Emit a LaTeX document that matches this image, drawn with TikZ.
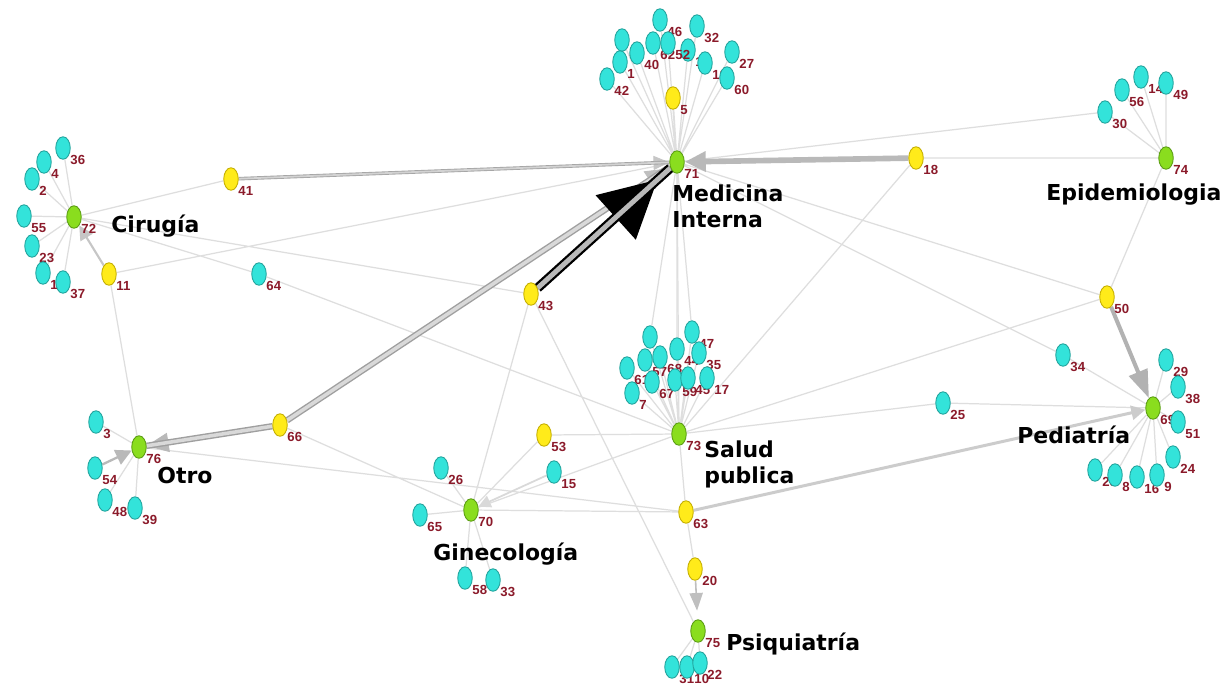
\documentclass[tikz,border=0pt]{standalone}
\usepackage{fontspec}
\setmainfont{Liberation Sans}
\newfontfamily\hubfont{DejaVu Sans}
\usepackage{xcolor}
\usetikzlibrary{shapes.geometric,arrows.meta}

\definecolor{cyanf}{HTML}{33E3DA}
\definecolor{cyanb}{HTML}{22A39C}
\definecolor{yelf}{HTML}{FFEB1A}
\definecolor{yelb}{HTML}{C4AE00}
\definecolor{grnf}{HTML}{8ADD1E}
\definecolor{grnb}{HTML}{5A9C12}
\definecolor{numred}{HTML}{8B1A2A}
\definecolor{edgef}{HTML}{DEDEDE}

\pgfdeclarelayer{bg}
\pgfsetlayers{bg,main}

\begin{document}
\begin{tikzpicture}[x=0.02cm, y=-0.02cm,
        nd/.style={ellipse, minimum width=0.29cm, minimum height=0.45cm, inner sep=0pt, line width=0.5pt},
        num/.style={text=numred, font=\fontsize{7.5}{8}\selectfont\bfseries, inner sep=0.4pt},
        cyn/.style={nd, fill=cyanf, draw=cyanb, label={[num]-45:#1}},
        yel/.style={nd, fill=yelf, draw=yelb, label={[num]-45:#1}},
        grn/.style={nd, fill=grnf, draw=grnb, label={[num]-45:#1}},
        blank/.style={nd, fill=cyanf, draw=cyanb},
        hub/.style={font=\hubfont\fontsize{12.5}{15.3}\selectfont\bfseries, align=left, inner sep=0pt},
        faint/.style={draw=edgef, line width=0.7pt},
        dbl/.style={draw=gray!75, line width=0.8pt, double=gray!30, double distance=2pt},
        tip/.style={-{Triangle[length=#1, width=#1]}}
    ]
    \useasboundingbox (0,0) rectangle (1226,684);

    % hubs (areas)
    \node[grn=71] (n71) at (677,162) {};
    \node[grn=72] (n72) at (74,217) {};
    \node[grn=74] (n74) at (1166,158) {};
    \node[grn=76] (n76) at (139,447) {};
    \node[grn=70] (n70) at (471,510) {};
    \node[grn=73] (n73) at (679,434) {};
    \node[grn=69] (n69) at (1153,408) {};
    \node[grn=75] (n75) at (698,631) {};

    % yellow brokers
    \node[yel=5] (n5) at (673,98) {};
    \node[yel=41] (n41) at (231,179) {};
    \node[yel=11] (n11) at (109,274) {};
    \node[yel=43] (n43) at (531,294) {};
    \node[yel=18] (n18) at (916,158) {};
    \node[yel=50] (n50) at (1107,297) {};
    \node[yel=66] (n66) at (280,425) {};
    \node[yel=53] (n53) at (544,435) {};
    \node[yel=63] (n63) at (686,512) {};
    \node[yel=20] (n20) at (695,569) {};

    % Medicina Interna group
    \node[cyn=2] (n2a) at (622,40) {};
    \node[cyn=40] (n40) at (637,53) {};
    \node[cyn=1] (n1a) at (620,62) {};
    \node[cyn=42] (n42) at (607,79) {};
    \node[cyn=46] (n46) at (660,20) {};
    \node[cyn=62] (n62) at (653,43) {};
    \node[cyn=1] (nq) at (688,50) {};
    \node[cyn=52] (n52) at (668,43) {};
    \node[cyn=32] (n32) at (697,26) {};
    \node[cyn=19] (n19) at (705,63) {};
    \node[cyn=27] (n27) at (732,52) {};
    \node[cyn=60] (n60) at (727,78) {};

    % Cirugia group
    \node[cyn=36] (n36) at (63,148) {};
    \node[cyn=4] (n4) at (44,162) {};
    \node[cyn=2] (n2b) at (32,179) {};
    \node[cyn=55] (n55) at (24,216) {};
    \node[cyn=23] (n23) at (32,246) {};
    \node[cyn=1] (n1b) at (43,273) {};
    \node[cyn=37] (n37) at (63,282) {};
    \node[cyn=64] (n64) at (259,274) {};

    % Epidemiologia group
    \node[cyn=30] (n30) at (1105,112) {};
    \node[cyn=56] (n56) at (1122,90) {};
    \node[cyn=14] (n14) at (1141,77) {};
    \node[cyn=49] (n49) at (1166,83) {};

    % Salud publica group
    \node[blank] (nq2) at (650,337) {};
    \node[cyn=47] (n47) at (692,332) {};
    \node[cyn=61] (n61) at (627,368) {};
    \node[cyn=57] (n57) at (645,360) {};
    \node[cyn=68] (n68) at (660,357) {};
    \node[cyn=44] (n44) at (677,349) {};
    \node[cyn=35] (n35) at (699,353) {};
    \node[cyn=7] (n7) at (632,393) {};
    \node[cyn=67] (n67) at (652,382) {};
    \node[cyn=59] (n59) at (675,380) {};
    \node[cyn=45] (n45) at (688,378) {};
    \node[cyn=17] (n17) at (707,378) {};

    % Pediatria group
    \node[cyn=34] (n34) at (1063,355) {};
    \node[cyn=25] (n25) at (943,403) {};
    \node[cyn=29] (n29) at (1166,360) {};
    \node[cyn=38] (n38) at (1178,387) {};
    \node[cyn=51] (n51) at (1178,422) {};
    \node[cyn=24] (n24) at (1173,457) {};
    \node[cyn=28] (n28) at (1095,470) {};
    \node[cyn=8] (n8) at (1115,475) {};
    \node[cyn=16] (n16) at (1137,477) {};
    \node[cyn=9] (n9) at (1157,475) {};

    % Otro group
    \node[cyn=3] (n3) at (96,422) {};
    \node[cyn=54] (n54) at (95,468) {};
    \node[cyn=48] (n48) at (105,500) {};
    \node[cyn=39] (n39) at (135,508) {};

    % Ginecologia group
    \node[cyn=26] (n26) at (441,468) {};
    \node[cyn=15] (n15) at (554,472) {};
    \node[cyn=65] (n65) at (420,515) {};
    \node[cyn=58] (n58) at (465,578) {};
    \node[cyn=33] (n33) at (493,580) {};

    % Psiquiatria group
    \node[cyn=31] (n31) at (672,667) {};
    \node[cyn=10] (n10) at (687,667) {};
    \node[cyn=22] (n22) at (700,663) {};

    % area names
    \node[hub, anchor=north west] (tmed) at (672,184) {Medicina\\Interna};
    \node[hub, anchor=base west] (tcir) at (111,232) {Cirugía};
    \node[hub, anchor=base west] (tepi) at (1046,200) {Epidemiologia};
    \node[hub, anchor=base west] (totr) at (157,483) {Otro};
    \node[hub, anchor=base west] (tgin) at (433,560) {Ginecología};
    \node[hub, anchor=north west] (tsal) at (704,440) {Salud\\publica};
    \node[hub, anchor=base west] (tped) at (1017,443) {Pediatría};
    \node[hub, anchor=base west] (tpsi) at (726,650) {Psiquiatría};

    \begin{pgfonlayer}{bg}
    \fill[white] (0,0) rectangle (1226,684);

    % faint links inside groups
    \draw[faint] (n2a) -- (n71) (n40) -- (n71) (n1a) -- (n71) (n42) -- (n71)
        (n46) -- (n71) (n62) -- (n71) (nq) -- (n71) (n52) -- (n71)
        (n32) -- (n71) (n19) -- (n71) (n27) -- (n71) (n60) -- (n71) (n5) -- (n71);
    \draw[faint] (n36) -- (n72) (n4) -- (n72) (n2b) -- (n72) (n55) -- (n72)
        (n23) -- (n72) (n1b) -- (n72) (n37) -- (n72);
    \draw[faint] (n30) -- (n74) (n56) -- (n74) (n14) -- (n74) (n49) -- (n74);
    \draw[faint] (nq2) -- (n73) (n47) -- (n73) (n61) -- (n73) (n57) -- (n73)
        (n68) -- (n73) (n44) -- (n73) (n35) -- (n73) (n7) -- (n73)
        (n67) -- (n73) (n59) -- (n73) (n45) -- (n73) (n17) -- (n73);
    \draw[faint] (n29) -- (n69) (n38) -- (n69) (n51) -- (n69) (n24) -- (n69)
        (n28) -- (n69) (n8) -- (n69) (n16) -- (n69) (n9) -- (n69)
        (n34) -- (n69) (n25) -- (n69);
    \draw[faint] (n3) -- (n76) (n48) -- (n76) (n39) -- (n76);
    \draw[faint] (n26) -- (n70) (n65) -- (n70) (n58) -- (n70) (n33) -- (n70) (n53) -- (n70);
    \draw[faint] (n31) -- (n75) (n10) -- (n75) (n22) -- (n75);

    % faint links between groups
    \draw[faint] (n41) -- (n72) (n11) -- (n71) (n72) -- (n43) (n72) -- (n64)
        (n64) -- (n73) (n30) -- (n71) (n18) -- (n74) (n50) -- (n74)
        (n71) -- (n50) (n71) -- (n34) (n73) -- (n50) (n73) -- (n18)
        (n73) -- (n25) (n71) -- (n73) (n63) -- (n73) (n63) -- (n20)
        (n43) -- (n70) (n43) -- (n75) (n66) -- (n70) (n63) -- (n76)
        (n63) -- (n70) (n73) -- (n70) (n53) -- (n73) (n11) -- (n76);
    \draw[faint] (nq2) -- (n71) (n44) -- (n71) (n47) -- (n71);

    % stronger links
    \draw[gray!45, line width=1.2pt, tip=8pt] (n11) -- (n72);
    \draw[gray!55, line width=1.3pt, tip=9pt] (n54) -- (n76);
    \draw[gray!30, line width=1pt, tip=7pt] (n15) -- (n70);
    \draw[gray!50, line width=0.9pt, -{Triangle[length=10pt, width=7.5pt]}, shorten >=5pt] (n20) -- (n75);
    \draw[gray!40, line width=1.7pt, tip=8pt] (n63) -- (n69);
    \draw[gray!60, line width=2.3pt, -{Triangle[length=16pt, width=11pt]}] (n50) -- (n69);
    \draw[gray!55, line width=3.2pt, -{Triangle[length=12pt, width=11pt]}] (n18) -- (n71);
    \draw[gray!45, line width=0.5pt, -{Triangle[length=9pt, width=8pt]}] (n41) -- (n71);
    \draw[draw=gray!70, line width=0.5pt, double=gray!35, double distance=1pt] (n41) -- (n71);
    \draw[gray!50, line width=0.5pt, -{Triangle[length=12pt, width=12pt]}, shorten >=2pt] (n66) -- (n71);
    \draw[dbl] (n66) -- (n71);
    \draw[gray!55, line width=0.5pt, -{Triangle[length=12.5pt, width=11pt]}] (n66) -- (n76);
    \draw[dbl] (n66) -- (n76);

    % heaviest link
    \draw[black, line width=0.8pt, -{Triangle[length=32pt, width=34pt]}, shorten >=10pt] (n43) -- (n71);
    \draw[draw=black, line width=1.3pt, double=gray!55, double distance=2.8pt] (n43) -- (n71);
    \end{pgfonlayer}

\end{tikzpicture}
\end{document}
